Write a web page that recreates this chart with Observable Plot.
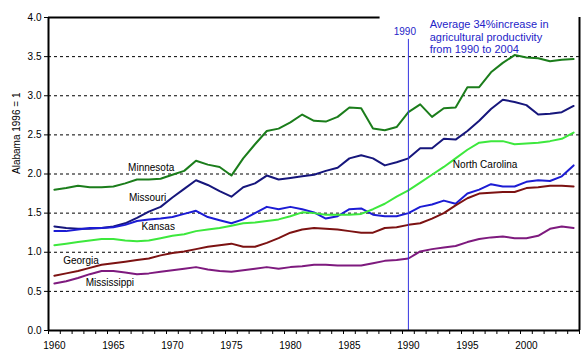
<!DOCTYPE html>
<html>
<head>
<meta charset="utf-8">
<script src="https://cdn.jsdelivr.net/npm/d3@7"></script>
<script src="https://cdn.jsdelivr.net/npm/@observablehq/plot@0.6"></script>
<style>
  html, body { margin: 0; padding: 0; background: #fff; }
</style>
</head>
<body>
<div id="chart"></div>
<script>
const years = d3.range(1960, 2005);
const minnesota = [1.80,1.82,1.85,1.83,1.83,1.84,1.88,1.93,1.93,1.94,1.99,2.04,2.17,2.12,2.09,1.98,2.20,2.38,2.55,2.58,2.66,2.76,2.68,2.67,2.73,2.85,2.84,2.58,2.56,2.60,2.79,2.89,2.73,2.84,2.85,3.11,3.11,3.30,3.42,3.52,3.49,3.48,3.44,3.46,3.47];
const missouri = [1.33,1.31,1.30,1.30,1.31,1.33,1.37,1.44,1.52,1.58,1.70,1.81,1.92,1.86,1.78,1.71,1.83,1.88,1.98,1.93,1.95,1.97,1.99,2.04,2.08,2.20,2.24,2.20,2.11,2.15,2.20,2.33,2.33,2.45,2.44,2.55,2.68,2.83,2.95,2.92,2.88,2.76,2.77,2.79,2.87];
const kansas = [1.27,1.27,1.29,1.31,1.31,1.32,1.35,1.40,1.42,1.43,1.45,1.49,1.53,1.45,1.41,1.37,1.42,1.50,1.58,1.55,1.58,1.55,1.51,1.43,1.46,1.55,1.56,1.48,1.46,1.46,1.50,1.58,1.61,1.66,1.62,1.75,1.80,1.87,1.84,1.84,1.90,1.92,1.91,1.97,2.11];
const northCarolina = [1.09,1.11,1.13,1.15,1.17,1.17,1.15,1.14,1.15,1.18,1.21,1.23,1.27,1.29,1.31,1.34,1.37,1.38,1.40,1.42,1.46,1.51,1.50,1.48,1.48,1.48,1.49,1.55,1.62,1.71,1.79,1.89,1.99,2.09,2.20,2.31,2.40,2.42,2.42,2.38,2.39,2.40,2.42,2.45,2.53];
const georgia = [0.70,0.73,0.76,0.80,0.84,0.86,0.88,0.90,0.92,0.96,0.99,1.01,1.04,1.07,1.09,1.11,1.07,1.07,1.12,1.18,1.25,1.29,1.31,1.30,1.29,1.27,1.25,1.25,1.31,1.32,1.35,1.37,1.43,1.50,1.60,1.69,1.75,1.76,1.77,1.77,1.82,1.83,1.85,1.85,1.84];
const mississippi = [0.60,0.63,0.67,0.72,0.76,0.76,0.74,0.72,0.73,0.75,0.77,0.79,0.81,0.78,0.76,0.75,0.77,0.79,0.81,0.79,0.81,0.82,0.84,0.84,0.83,0.83,0.83,0.86,0.89,0.90,0.92,1.01,1.04,1.06,1.08,1.13,1.17,1.19,1.20,1.18,1.18,1.21,1.30,1.33,1.31];

const seriesNames = ["Minnesota","Missouri","Kansas","North Carolina","Georgia","Mississippi"];
const seriesValues = [minnesota, missouri, kansas, northCarolina, georgia, mississippi];
const seriesColors = ["#1b7d1b","#16167c","#1c1cd4","#3de83d","#7c1212","#7e1a7e"];

const xTickLabels = [1960,1965,1970,1975,1980,1985,1990,1995,2000];
const yTickLabels = [0,0.5,1,1.5,2,2.5,3,3.5,4];
const gridValues = [0.5,1,1.5,2,2.5,3,3.5];

// label annotations (name, year, value)
const labelNames = ["Minnesota","Missouri","Kansas","North Carolina","Georgia","Mississippi"];
const labelX = [1968.2,1967.9,1968.8,1996.5,1962.25,1964.7];
const labelY = [2.08,1.69,1.32,2.12,0.895,0.61];

const markerYear = 1990;
const annotation = "Average 34%increase in\nagricultural productivity\nfrom 1990 to 2004";

const table = [];
seriesNames.forEach((name, i) => {
  years.forEach((yr, j) => table.push({series: name, year: yr, value: seriesValues[i][j]}));
});
const labels = labelNames.map((n, i) => ({name: n, x: labelX[i], y: labelY[i]}));
const boundaries = years.map(y => y - 0.5).concat([years[years.length - 1] + 0.5]);
const x0 = years[0] - 0.5, x1 = years[years.length - 1] + 0.5;

const marks = [
  Plot.ruleY(gridValues, {stroke: "black", strokeWidth: 1, strokeDasharray: "3,3"}),
];
seriesNames.forEach((name, i) => {
  marks.push(Plot.line(table.filter(d => d.series === name), {x: "year", y: "value", stroke: seriesColors[i], strokeWidth: 2}));
});
marks.push(
  Plot.ruleX([markerYear], {y1: 0, y2: 3.72, stroke: "#3434e0", strokeWidth: 1}),
  Plot.ruleY([0], {stroke: "black", strokeWidth: 2}),
  Plot.ruleY([4], {x1: x0, x2: 1987.6, stroke: "black", strokeWidth: 2}),
  Plot.ruleX([x0, x1], {y1: 0, y2: 4, stroke: "black", strokeWidth: 2}),
  Plot.axisY({ticks: yTickLabels, tickSize: 4, tickPadding: 3, tickFormat: d3.format(".1f"), label: null, fontSize: 10}),
  Plot.axisX({ticks: xTickLabels, tickSize: 0, tickPadding: 11, tickFormat: d => String(d), label: null, fontSize: 10}),
  Plot.axisX({ticks: boundaries, tickSize: 4, tickFormat: () => "", label: null}),
  Plot.text(labels, {x: "x", y: "y", text: "name", fontSize: 10, fill: "black"}),
  Plot.text(["Alabama 1996 = 1"], {frameAnchor: "left", y: 2.0, dx: -32, rotate: -90, fontSize: 10, fill: "black", text: d => d}),
  Plot.text([String(markerYear)], {x: 1989.7, y: 3.82, text: d => d, fontSize: 10, fill: "#2424c8"}),
  Plot.text([annotation], {x: 1991.8, y: 3.975, text: d => d, textAnchor: "start", lineAnchor: "top", lineHeight: 1.12, fontSize: 11, fill: "#2424c8"})
);

const chart = Plot.plot({
  width: 588,
  height: 364,
  marginLeft: 48,
  marginRight: 9,
  marginTop: 17,
  marginBottom: 34,
  x: {domain: [x0, x1]},
  y: {domain: [0, 4]},
  style: {fontFamily: "'Liberation Sans', Arial, sans-serif", fontSize: "10px", background: "white", color: "black"},
  marks
});
document.getElementById("chart").appendChild(chart);
</script>
</body>
</html>
